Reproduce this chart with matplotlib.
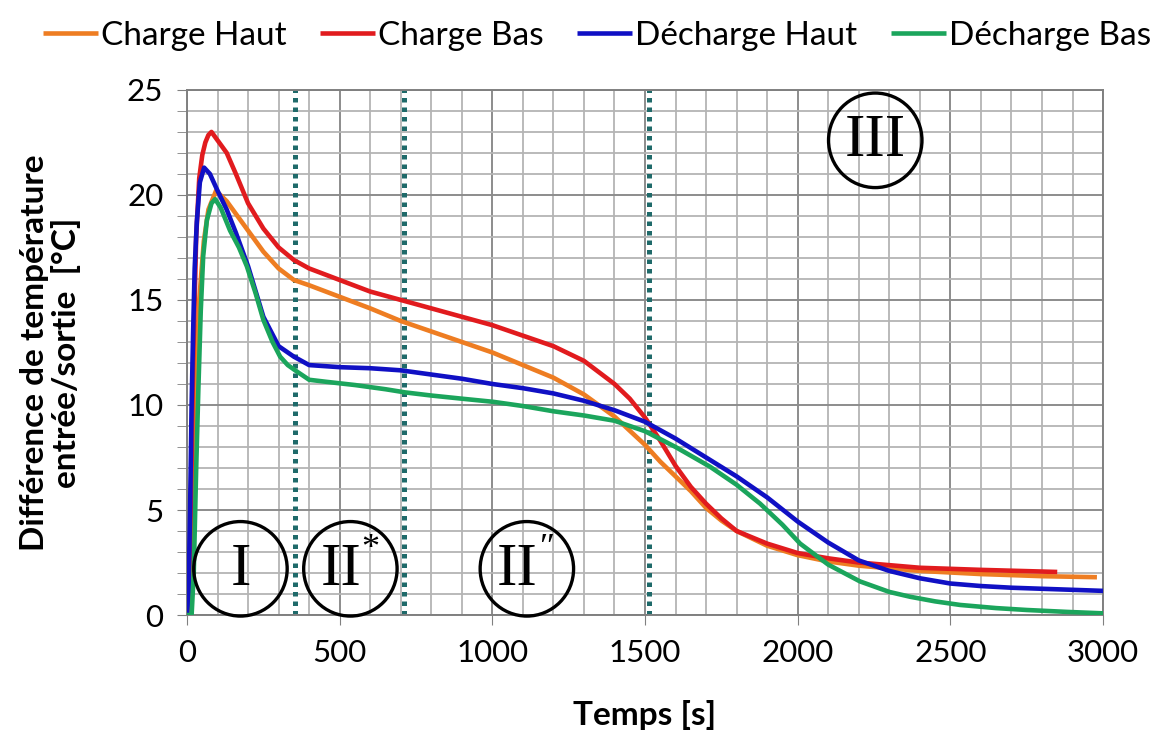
# -*- encoding: utf-8 -*-
'''
Différence de température entrée/sortie pendant la charge et la décharge.
'''
import matplotlib
matplotlib.use('Agg')
import matplotlib.pyplot as plt
from matplotlib.patches import Ellipse
from matplotlib.ticker import MultipleLocator

plt.rcParams['font.family'] = ['Lato', 'DejaVu Sans']

# ---- data (temps [s], delta T [°C]) ----
t_charge_haut = [0, 12, 20, 30, 40, 55, 70, 95, 130, 160, 200, 250, 300, 350, 400, 500, 600, 700,
                 800, 900, 1000, 1100, 1200, 1300, 1400, 1500, 1550, 1600, 1650, 1700, 1750, 1800,
                 1900, 2000, 2100, 2200, 2400, 2600, 2800, 2980]
dt_charge_haut = [0, 1, 6, 11, 15, 17.8, 19.3, 20.2, 19.7, 19.1, 18.3, 17.3, 16.5, 15.95, 15.7, 15.15,
                  14.6, 14.0, 13.5, 13.0, 12.5, 11.9, 11.3, 10.5, 9.45, 8.1, 7.3, 6.6, 5.9, 5.1, 4.5,
                  4.0, 3.3, 2.85, 2.55, 2.35, 2.1, 1.95, 1.85, 1.8]

t_charge_bas = [0, 10, 20, 30, 40, 50, 60, 70, 80, 100, 130, 160, 200, 250, 300, 350, 400, 500, 600,
                700, 800, 900, 1000, 1100, 1200, 1300, 1400, 1450, 1500, 1550, 1600, 1650, 1700,
                1750, 1800, 1900, 2000, 2100, 2200, 2400, 2600, 2850]
dt_charge_bas = [0, 3, 12, 18, 20.8, 21.9, 22.5, 22.85, 23.0, 22.6, 22.0, 21.0, 19.6, 18.4, 17.5, 16.9,
                 16.5, 15.95, 15.4, 15.0, 14.6, 14.2, 13.8, 13.3, 12.8, 12.1, 11.0, 10.3, 9.4, 8.3,
                 7.1, 6.1, 5.3, 4.6, 4.0, 3.4, 2.95, 2.7, 2.5, 2.25, 2.15, 2.05]

t_decharge_haut = [0, 5, 10, 15, 20, 25, 32, 42, 56, 75, 100, 130, 160, 200, 250, 300, 350, 400, 500,
                   600, 700, 800, 900, 1000, 1100, 1200, 1300, 1400, 1500, 1600, 1700, 1800, 1900,
                   2000, 2100, 2200, 2300, 2400, 2500, 2600, 2700, 2800, 2900, 3000]
dt_decharge_haut = [0, 1, 5, 10, 13.5, 16.5, 18.7, 20.6, 21.3, 21.0, 20.2, 19.3, 18.2, 16.6, 14.2, 12.8,
                    12.3, 11.9, 11.8, 11.75, 11.65, 11.45, 11.25, 11.0, 10.8, 10.55, 10.2, 9.75, 9.2,
                    8.4, 7.5, 6.6, 5.6, 4.45, 3.45, 2.6, 2.1, 1.75, 1.5, 1.38, 1.3, 1.25, 1.2, 1.15]

t_decharge_bas = [0, 15, 22, 30, 37, 45, 53, 65, 80, 92, 110, 141, 170, 196, 225, 250, 280, 305, 330,
                  359, 400, 458, 550, 650, 714, 800, 900, 1003, 1100, 1200, 1300, 1400, 1500, 1600,
                  1713, 1800, 1877, 1950, 2008, 2100, 2204, 2300, 2368, 2450, 2532, 2650, 2750,
                  2880, 3000]
dt_decharge_bas = [0, 0, 2, 7, 10.7, 14.5, 17.1, 18.8, 19.6, 19.8, 19.4, 18.3, 17.5, 16.6, 15.3, 14.05,
                   13.0, 12.3, 11.9, 11.6, 11.2, 11.1, 10.95, 10.75, 10.6, 10.45, 10.3, 10.15, 9.95,
                   9.7, 9.5, 9.25, 8.75, 8.0, 7.06, 6.2, 5.3, 4.3, 3.4, 2.4, 1.6, 1.1, 0.87, 0.65,
                   0.48, 0.33, 0.24, 0.15, 0.08]

series_labels = ['Charge Haut', 'Charge Bas', 'Décharge Haut', 'Décharge Bas']
series_colors = ['#EE7D22', '#E11B1E', '#1010C4', '#1BA55C']

# phase limits and phase names
phase_limits = [355, 712, 1512]
phase_names = ['I', 'II', 'II', 'III']
phase_marks = ['', '*', '″', '']
phase_t = [175, 535, 1113, 2254]
phase_dt = [2.2, 2.2, 2.2, 22.6]

fig = plt.figure(figsize=(11.66, 7.37), dpi=100)
ax = fig.add_axes([0.1604, 0.1655, 0.7856, 0.7125])

ax.set_xlim(0, 3000)
ax.set_ylim(0, 25)
ax.xaxis.set_major_locator(MultipleLocator(500))
ax.xaxis.set_minor_locator(MultipleLocator(100))
ax.yaxis.set_major_locator(MultipleLocator(5))
ax.yaxis.set_minor_locator(MultipleLocator(1))
ax.grid(which='major', color='#8c8c8c', linewidth=1.4)
ax.grid(which='minor', color='#b4b4b4', linewidth=1.3)
ax.set_axisbelow(True)
ax.tick_params(axis='both', which='major', labelsize=22.5, length=7, color='#808080', pad=10)
ax.tick_params(axis='y', which='minor', length=7, color='#808080')
ax.tick_params(axis='x', which='minor', length=0)
for s in ax.spines.values():
    s.set_color('#808080')
    s.set_linewidth(1.4)

for x in phase_limits:
    ax.axvline(x, color='#1f6a6a', linestyle=(0, (0.9, 1.0)), linewidth=3.6, zorder=2)

series = [(t_charge_haut, dt_charge_haut), (t_charge_bas, dt_charge_bas),
          (t_decharge_haut, dt_decharge_haut), (t_decharge_bas, dt_decharge_bas)]
handles = []
for (t, dt), lab, col in zip(series, series_labels, series_colors):
    h, = ax.plot(t, dt, color=col, linewidth=3.3, label=lab, zorder=3, solid_capstyle='butt')
    handles.append(h)

# circled phase numbers
for name, mark, xc, yc in zip(phase_names, phase_marks, phase_t, phase_dt):
    ax.add_patch(Ellipse((xc, yc), 306, 4.5, fill=False, edgecolor='black', linewidth=2.4,
                         zorder=5, clip_on=False))
    dx = -7 if mark else 0
    ax.annotate(name, (xc, yc), xytext=(dx, -1), textcoords='offset points', ha='center',
                va='center', fontsize=44, family=['Liberation Serif', 'DejaVu Serif'], zorder=6)
    if mark:
        ax.annotate(mark, (xc, yc), xytext=(14, 14), textcoords='offset points', ha='center',
                    va='center', fontsize=26, family=['Liberation Serif', 'DejaVu Serif'], zorder=6)

ax.set_xlabel('Temps [s]', fontsize=24, fontweight='bold', labelpad=24)
ax.set_ylabel('Différence de température\nentrée/sortie  [°C]', fontsize=24, fontweight='bold',
              labelpad=33, linespacing=1.1)

fig.legend(handles=handles, loc='upper center', bbox_to_anchor=(0.512, 1.012), ncol=4,
           frameon=False, fontsize=24, handlelength=1.65, handletextpad=0.1, columnspacing=1.0)

fig.savefig('out.png', dpi=100)
